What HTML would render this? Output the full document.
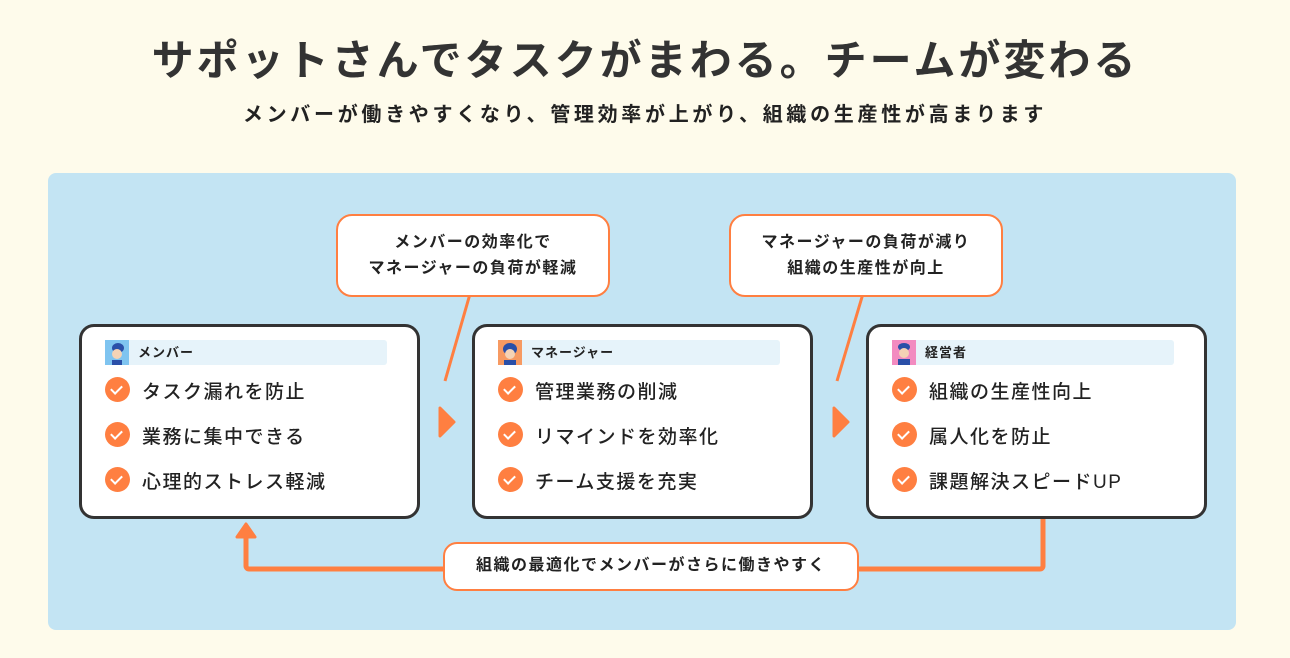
<!DOCTYPE html>
<html><head><meta charset="utf-8"><style>
*{margin:0;padding:0;box-sizing:border-box}
body{width:1290px;height:658px;background:#fefbeb;font-family:"Liberation Sans","Noto Sans CJK JP",sans-serif;color:#222;position:relative;overflow:hidden}
.a{position:absolute}
h1{position:absolute;left:0;width:1290px;top:27px;text-align:center;font-size:42px;font-weight:700;color:#333;letter-spacing:3px}
.sub{position:absolute;left:0;width:1290px;top:98px;text-align:center;font-size:20px;font-weight:700;color:#222;letter-spacing:3.7px}
.panel{left:48px;top:173px;width:1188px;height:457px;background:#c3e4f3;border-radius:8px}
.card{width:341px;height:195px;top:324px;background:#fff;border:3px solid #333;border-radius:15px}
.hd{position:absolute;left:23px;top:13px;width:282px;height:25px;background:#e6f3fa;border-radius:3px;font-size:13px;font-weight:700;padding-left:33px;line-height:25px;letter-spacing:1px}
.ic{position:absolute;left:0;top:0;width:24px;height:25px}
.it{position:absolute;left:60px;font-size:19px;font-weight:500;letter-spacing:1.5px}
.ck{position:absolute;left:23px;width:25px;height:25px;border-radius:50%;background:#ff7f41}
.ck:after{content:"";position:absolute;left:8px;top:6px;width:5px;height:9px;border:solid #fff;border-width:0 2.5px 2.5px 0;transform:rotate(45deg)}
.bub{top:214px;width:274px;height:83px;background:#fff;border:2.5px solid #ff7f41;border-radius:16px;text-align:center;font-size:16px;font-weight:700;line-height:26px;padding-top:14px;letter-spacing:1.5px}
</style></head><body>
<h1>サポットさんでタスクがまわる。チームが変わる</h1>
<div class="sub">メンバーが働きやすくなり、管理効率が上がり、組織の生産性が高まります</div>
<div class="a panel"></div>
<svg class="a" style="left:0;top:0" width="1290" height="658">
<g stroke="#ff7f41" stroke-width="3" fill="none"><line x1="472" y1="287" x2="445" y2="381"/><line x1="865" y1="287" x2="837" y2="381"/></g>
<path d="M1043 519 V566 a3 3 0 0 1 -3 3 H249 a3 3 0 0 1 -3 -3 V533" stroke="#ff7f41" stroke-width="5" fill="none"/>
<path d="M237 537 L246 524 L255 537 Z" fill="#ff7f41" stroke="#ff7f41" stroke-width="3" stroke-linejoin="round"/>
<path d="M440 408 L454 422 L440 436 Z" fill="#ff7f41" stroke="#ff7f41" stroke-width="3" stroke-linejoin="round"/>
<path d="M834 408 L848 422 L834 436 Z" fill="#ff7f41" stroke="#ff7f41" stroke-width="3" stroke-linejoin="round"/>
</svg>
<div class="a bub" style="left:336px">メンバーの効率化で<br>マネージャーの負荷が軽減</div>
<div class="a bub" style="left:729px">マネージャーの負荷が減り<br>組織の生産性が向上</div>
<div class="a card" style="left:79px"><div class="hd"><div class="ic" style="background:#7fc4f0"><svg width="24" height="25"><ellipse cx="13" cy="8" rx="6" ry="5" fill="#2a4fa8"/><circle cx="12" cy="14" r="5" fill="#f5d3b5"/><rect x="7" y="20" width="10" height="5" fill="#2a4fa8"/></svg></div>メンバー</div>
<div class="ck" style="top:50px"></div><div class="it" style="top:50px">タスク漏れを防止</div>
<div class="ck" style="top:95px"></div><div class="it" style="top:95px">業務に集中できる</div>
<div class="ck" style="top:140px"></div><div class="it" style="top:140px">心理的ストレス軽減</div></div>
<div class="a card" style="left:472px"><div class="hd"><div class="ic" style="background:#f79a62"><svg width="24" height="25"><ellipse cx="12" cy="9" rx="7" ry="6" fill="#2a4fa8"/><circle cx="12" cy="14" r="5" fill="#f5d3b5"/><rect x="6" y="20" width="12" height="5" fill="#2a4fa8"/></svg></div>マネージャー</div>
<div class="ck" style="top:50px"></div><div class="it" style="top:50px">管理業務の削減</div>
<div class="ck" style="top:95px"></div><div class="it" style="top:95px">リマインドを効率化</div>
<div class="ck" style="top:140px"></div><div class="it" style="top:140px">チーム支援を充実</div></div>
<div class="a card" style="left:866px"><div class="hd"><div class="ic" style="background:#f28bc0"><svg width="24" height="25"><ellipse cx="12" cy="7" rx="6" ry="4" fill="#2a4fa8"/><circle cx="12" cy="13" r="5" fill="#f5d3b5"/><rect x="6" y="19" width="12" height="6" fill="#2a4fa8"/></svg></div>経営者</div>
<div class="ck" style="top:50px"></div><div class="it" style="top:50px">組織の生産性向上</div>
<div class="ck" style="top:95px"></div><div class="it" style="top:95px">属人化を防止</div>
<div class="ck" style="top:140px"></div><div class="it" style="top:140px">課題解決スピードUP</div></div>
<div class="a" style="left:443px;top:542px;width:416px;height:49px;background:#fff;border:2.5px solid #ff7f41;border-radius:14px;text-align:center;line-height:44px;font-size:16px;font-weight:700;letter-spacing:1.5px">組織の最適化でメンバーがさらに働きやすく</div>
</body></html>
